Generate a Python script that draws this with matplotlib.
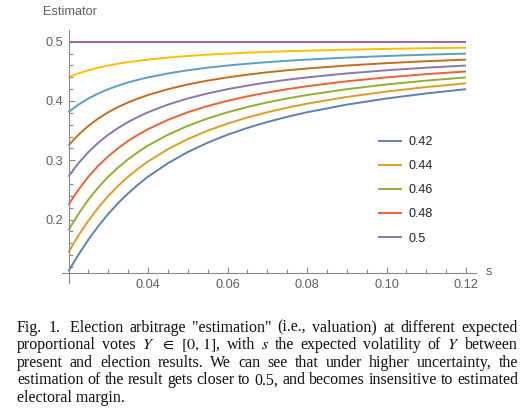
import matplotlib
matplotlib.use('Agg')
import matplotlib.pyplot as plt
from matplotlib.lines import Line2D

# 데이터: 변동성 s 와 각 예상 득표율별 추정값
s_values = [0.02, 0.021, 0.0225, 0.025, 0.0275, 0.03, 0.0325, 0.035,
            0.0375, 0.04, 0.045, 0.05, 0.055, 0.06, 0.065, 0.07,
            0.075, 0.08, 0.09, 0.10, 0.11, 0.12]

est_042 = [0.1128, 0.1242, 0.1408, 0.1662, 0.1891, 0.2096, 0.2279, 0.2443,
           0.2590, 0.2723, 0.2951, 0.3139, 0.3297, 0.3431, 0.3546, 0.3646,
           0.3733, 0.3810, 0.3939, 0.4042, 0.4128, 0.4199]
est_043 = [0.1445, 0.1563, 0.1730, 0.1981, 0.2203, 0.2398, 0.2569, 0.2723,
           0.2859, 0.2980, 0.3187, 0.3358, 0.3499, 0.3619, 0.3722, 0.3810,
           0.3887, 0.3955, 0.4068, 0.4160, 0.4235, 0.4298]
est_044 = [0.1818, 0.1934, 0.2096, 0.2336, 0.2543, 0.2723, 0.2880, 0.3018,
           0.3139, 0.3248, 0.3431, 0.3581, 0.3705, 0.3810, 0.3899, 0.3976,
           0.4042, 0.4101, 0.4199, 0.4279, 0.4344, 0.4398]
est_045 = [0.2244, 0.2354, 0.2504, 0.2723, 0.2909, 0.3067, 0.3206, 0.3326,
           0.3431, 0.3525, 0.3682, 0.3810, 0.3915, 0.4003, 0.4079, 0.4143,
           0.4199, 0.4249, 0.4332, 0.4398, 0.4453, 0.4498]
est_046 = [0.2723, 0.2820, 0.2951, 0.3139, 0.3297, 0.3431, 0.3546, 0.3646,
           0.3733, 0.3810, 0.3939, 0.4042, 0.4128, 0.4199, 0.4260, 0.4313,
           0.4358, 0.4398, 0.4465, 0.4518, 0.4562, 0.4598]
est_047 = [0.3248, 0.3326, 0.3431, 0.3581, 0.3705, 0.3810, 0.3899, 0.3976,
           0.4042, 0.4101, 0.4199, 0.4279, 0.4344, 0.4398, 0.4444, 0.4484,
           0.4518, 0.4548, 0.4598, 0.4638, 0.4671, 0.4698]
est_048 = [0.3810, 0.3865, 0.3939, 0.4042, 0.4128, 0.4199, 0.4260, 0.4313,
           0.4358, 0.4398, 0.4465, 0.4518, 0.4562, 0.4598, 0.4629, 0.4655,
           0.4678, 0.4698, 0.4732, 0.4759, 0.4781, 0.4799]
est_049 = [0.4398, 0.4427, 0.4465, 0.4518, 0.4562, 0.4598, 0.4629, 0.4655,
           0.4678, 0.4698, 0.4732, 0.4759, 0.4781, 0.4799, 0.4815, 0.4828,
           0.4839, 0.4849, 0.4866, 0.4879, 0.4890, 0.4899]
est_050 = [0.5] * len(s_values)

curves = [est_042, est_043, est_044, est_045, est_046,
          est_047, est_048, est_049, est_050]

# Mathematica 기본 색상 순서
colors = ['#5E81B5', '#E19C24', '#8FB032', '#EB6235', '#8778B3',
          '#C56E1A', '#5D9EC7', '#FFBF00', '#A5609D']

legend_labels = ['0.42', '0.44', '0.46', '0.48', '0.5']

x_ticks = [0.04, 0.06, 0.08, 0.10, 0.12]
x_tick_labels = ['0.04', '0.06', '0.08', '0.10', '0.12']
y_ticks = [0.2, 0.3, 0.4, 0.5]
y_tick_labels = ['0.2', '0.3', '0.4', '0.5']

caption_lines = [
    ['Fig.', '1.', ' Election', 'arbitrage', '"estimation"', '(i.e.,',
     'valuation)', 'at', 'different', 'expected'],
    ['proportional', 'votes', '$Y$', '$\\in$', '$[0,\\,1]$,', 'with', '$s$',
     'the', 'expected', 'volatility', 'of', '$Y$', 'between'],
    ['present', 'and', 'election', 'results.', 'We', 'can', 'see', 'that',
     'under', 'higher', 'uncertainty,', 'the'],
    ['estimation', 'of', 'the', 'result', 'gets', 'closer', 'to', '0.5,',
     'and', 'becomes', 'insensitive', 'to', 'estimated'],
]
caption_last = 'electoral margin.'

W, H = 522, 408
AXIS_GRAY = '#8a8a8a'
LABEL_GRAY = '#606060'


def justify_line(fig, words, y_px, x0_px, x1_px, size):
    # 양쪽 정렬: 단어 폭을 재고 남는 공간을 균등 분배
    renderer = fig.canvas.get_renderer()
    texts = [fig.text(0, 1 - y_px / H, w, fontsize=size, va='baseline',
                      family='Liberation Serif', color='#111111')
             for w in words]
    widths = [t.get_window_extent(renderer).width for t in texts]
    gap = (x1_px - x0_px - sum(widths)) / (len(words) - 1)
    x = x0_px
    for t, w in zip(texts, widths):
        t.set_x(x / W)
        x += w + gap


def draw_chart():
    plt.rcParams['font.family'] = ['Liberation Sans', 'DejaVu Sans']
    plt.rcParams['mathtext.fontset'] = 'stix'

    fig = plt.figure(figsize=(W / 100, H / 100), dpi=100)
    ax = fig.add_axes([62 / W, 1 - 283 / H, (476 - 62) / W, (283 - 30) / H])

    for vals, c in zip(curves, colors):
        ax.plot(s_values, vals, color=c, linewidth=1.4,
                solid_capstyle='butt', solid_joinstyle='round')

    ax.set_xlim(0.02 - 6.5 / 3975, 0.12 + 10 / 3975)
    ax.set_ylim(0.5 - (283 - 41.7) / 593, 0.5 + (41.7 - 30) / 593)

    # 축 모양 (Mathematica 스타일)
    for side in ['top', 'right']:
        ax.spines[side].set_visible(False)
    ax.spines['left'].set_position(('data', 0.02))
    ax.spines['bottom'].set_position(('data', 0.1094))
    for side in ['left', 'bottom']:
        ax.spines[side].set_color(AXIS_GRAY)
        ax.spines[side].set_linewidth(0.8)

    ax.set_xticks(x_ticks)
    ax.set_xticklabels(x_tick_labels)
    ax.set_xticks([0.025 + 0.005 * i for i in range(19) if i % 4 != 3],
                  minor=True)
    ax.set_yticks(y_ticks)
    ax.set_yticklabels(y_tick_labels)
    ax.set_yticks([0.12 + 0.02 * i for i in range(19) if i % 5 != 4],
                  minor=True)
    ax.tick_params(which='both', direction='in', color=AXIS_GRAY,
                   width=0.8, labelcolor=LABEL_GRAY, labelsize=9.2, pad=4)
    ax.tick_params(which='major', length=4.5)
    ax.tick_params(which='minor', length=2.6)

    fig.text(489 / W, 1 - 272 / H, 's', fontsize=9.2, color=LABEL_GRAY,
             ha='center', va='center')
    fig.text(43 / W, 1 - 12 / H, 'Estimator', fontsize=9.2,
             color=LABEL_GRAY, ha='left', va='center')

    # 범례 (앞의 다섯 색상만)
    handles = [Line2D([], [], color=c, linewidth=1.4) for c in colors[:5]]
    ax.legend(handles, legend_labels, loc='upper left', frameon=False,
              bbox_to_anchor=(374 / W, 1 - 131 / H),
              bbox_transform=fig.transFigure, fontsize=9,
              handlelength=1.75, handletextpad=0.6, labelspacing=0.97,
              labelcolor='#222222', borderaxespad=0)

    # 캡션
    baselines = [331.5, 349.0, 366.7, 384.3, 401.8]
    for words, y in zip(caption_lines, baselines):
        justify_line(fig, words, y, 17, 518, 11.5)
    fig.text(17 / W, 1 - baselines[4] / H, caption_last, fontsize=11.5,
             va='baseline', family='Liberation Serif', color='#111111')

    fig.savefig('out.png', dpi=100)
    plt.close(fig)


if __name__ == '__main__':
    draw_chart()
